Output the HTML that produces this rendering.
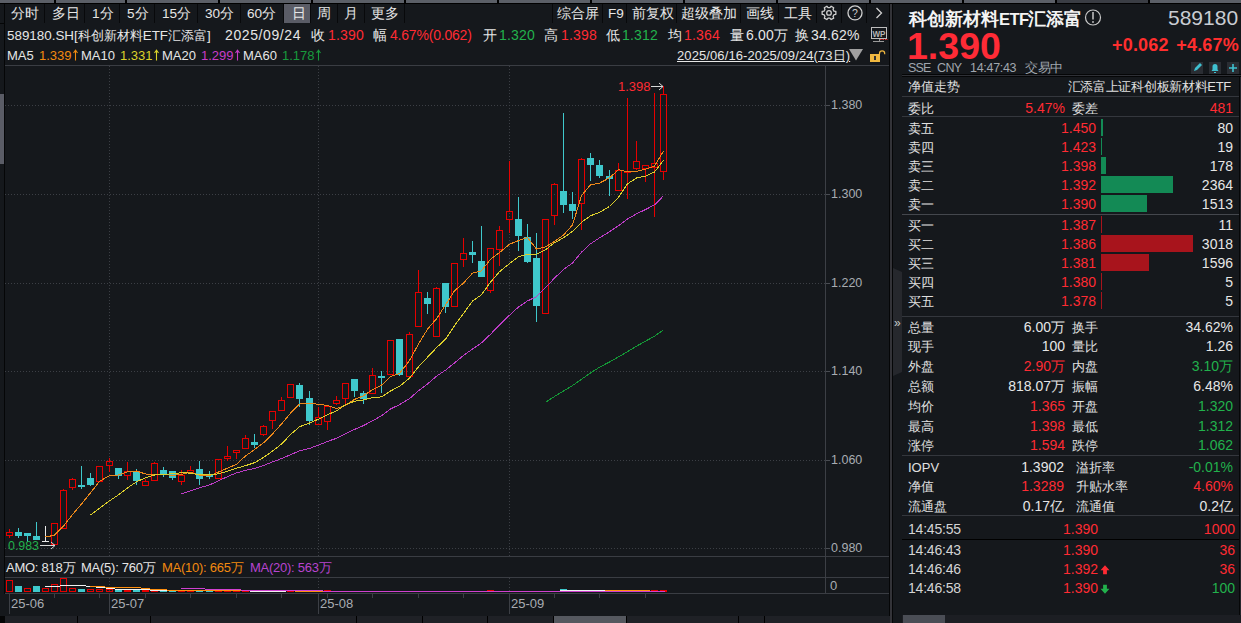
<!DOCTYPE html>
<html><head><meta charset="utf-8">
<style>
*{margin:0;padding:0;box-sizing:border-box}
html,body{width:1241px;height:623px;overflow:hidden;background:#15181c;font-family:"Liberation Sans",sans-serif;color:#e6e6e6}
.a{position:absolute;white-space:nowrap;line-height:1}
.t{font-size:13px} .t14{font-size:14px;letter-spacing:0.2px}
.w{color:#e6e6e6} .g{color:#a8acb2} .r{color:#ff2b33} .gr{color:#22b14c}
.bk{position:absolute;background:#000}
.gy{position:absolute;background:#5b5f67}
body>svg{position:absolute;left:0;top:0} .ar{display:inline-block;vertical-align:top;margin-left:1px}
</style></head><body>
<!-- top strip -->
<div class="gy" style="left:0;top:0;width:1241px;height:3px"></div>
<div class="bk" style="left:0;top:3px;width:1241px;height:1px"></div>
<div class="bk" style="left:54px;top:0;width:2px;height:3px"></div>
<div class="bk" style="left:125px;top:0;width:2px;height:3px"></div>
<div class="bk" style="left:218px;top:0;width:2px;height:3px"></div>
<div class="bk" style="left:311px;top:0;width:2px;height:3px"></div>
<div class="bk" style="left:404px;top:0;width:2px;height:3px"></div>
<div class="bk" style="left:497px;top:0;width:2px;height:3px"></div>
<div class="bk" style="left:590px;top:0;width:2px;height:3px"></div>
<div class="bk" style="left:683px;top:0;width:2px;height:3px"></div>
<div class="bk" style="left:776px;top:0;width:2px;height:3px"></div>
<div class="bk" style="left:869px;top:0;width:2px;height:3px"></div>
<div class="bk" style="left:962px;top:0;width:2px;height:3px"></div>
<div class="bk" style="left:1055px;top:0;width:2px;height:3px"></div>
<div class="bk" style="left:1148px;top:0;width:2px;height:3px"></div>
<div style="position:absolute;left:1057px;top:0;width:91px;height:3px;background:#3a3d44"></div>
<div class="bk" style="left:4px;top:4px;width:1px;height:19px;background:#08090b"></div>
<div class="bk" style="left:44px;top:4px;width:1px;height:19px;background:#08090b"></div>
<div class="bk" style="left:84px;top:4px;width:1px;height:19px;background:#08090b"></div>
<div class="bk" style="left:119px;top:4px;width:1px;height:19px;background:#08090b"></div>
<div class="bk" style="left:154px;top:4px;width:1px;height:19px;background:#08090b"></div>
<div class="bk" style="left:197px;top:4px;width:1px;height:19px;background:#08090b"></div>
<div class="bk" style="left:240px;top:4px;width:1px;height:19px;background:#08090b"></div>
<div class="bk" style="left:283px;top:4px;width:1px;height:19px;background:#08090b"></div>
<div class="bk" style="left:310px;top:4px;width:1px;height:19px;background:#08090b"></div>
<div class="bk" style="left:337px;top:4px;width:1px;height:19px;background:#08090b"></div>
<div class="bk" style="left:364px;top:4px;width:1px;height:19px;background:#08090b"></div>
<div class="bk" style="left:404px;top:4px;width:1px;height:19px;background:#08090b"></div>
<div class="bk" style="left:552px;top:4px;width:1px;height:19px;background:#08090b"></div>
<div class="bk" style="left:602px;top:4px;width:1px;height:19px;background:#08090b"></div>
<div class="bk" style="left:626px;top:4px;width:1px;height:19px;background:#08090b"></div>
<div class="bk" style="left:676px;top:4px;width:1px;height:19px;background:#08090b"></div>
<div class="bk" style="left:740px;top:4px;width:1px;height:19px;background:#08090b"></div>
<div class="bk" style="left:778px;top:4px;width:1px;height:19px;background:#08090b"></div>
<div class="bk" style="left:816px;top:4px;width:1px;height:19px;background:#08090b"></div>
<div class="bk" style="left:841px;top:4px;width:1px;height:19px;background:#08090b"></div>
<div class="bk" style="left:866px;top:4px;width:1px;height:19px;background:#08090b"></div>
<div class="bk" style="left:889px;top:4px;width:1px;height:19px;background:#08090b"></div>
<div style="position:absolute;left:284px;top:4px;width:26px;height:19px;background:#5a5c66"></div>
<div class="a t w" style="left:11px;top:7px;font-size:13.6px">分时</div>
<div class="a t w" style="left:52px;top:7px;font-size:13.6px">多日</div>
<div class="a t w" style="left:92px;top:7px;font-size:13.6px">1分</div>
<div class="a t w" style="left:127px;top:7px;font-size:13.6px">5分</div>
<div class="a t w" style="left:162px;top:7px;font-size:13.6px">15分</div>
<div class="a t w" style="left:205px;top:7px;font-size:13.6px">30分</div>
<div class="a t w" style="left:247px;top:7px;font-size:13.6px">60分</div>
<div class="a t w" style="left:292px;top:7px;font-size:13.6px">日</div>
<div class="a t w" style="left:317px;top:7px;font-size:13.6px">周</div>
<div class="a t w" style="left:344px;top:7px;font-size:13.6px">月</div>
<div class="a t w" style="left:371px;top:7px;font-size:13.6px">更多</div>
<div class="a t w" style="left:557px;top:7px;font-size:13.6px">综合屏</div>
<div class="a t w" style="left:608px;top:7px;font-size:13.6px">F9</div>
<div class="a t w" style="left:632px;top:7px;font-size:13.6px">前复权</div>
<div class="a t w" style="left:681px;top:7px;font-size:13.6px">超级叠加</div>
<div class="a t w" style="left:746px;top:7px;font-size:13.6px">画线</div>
<div class="a t w" style="left:784px;top:7px;font-size:13.6px">工具</div>
<svg width="1241" height="623" style="pointer-events:none">
<g fill="none" stroke="#d0d0d0" stroke-width="1.3">
<circle cx="829" cy="12.9" r="2.3"/>
<path d="M833.98 11.09 L835.85 11.44 L835.85 14.36 L833.98 14.71 L833.06 16.31 L833.68 18.10 L831.16 19.56 L829.92 18.12 L828.08 18.12 L826.84 19.56 L824.32 18.10 L824.94 16.31 L824.02 14.71 L822.15 14.36 L822.15 11.44 L824.02 11.09 L824.94 9.49 L824.32 7.70 L826.84 6.24 L828.08 7.68 L829.92 7.68 L831.16 6.24 L833.68 7.70 L833.06 9.49 Z" stroke-linejoin="round"/>
<circle cx="855" cy="12.9" r="7"/>
<path d="M876.5 8 l5 5 l-5 5"/>
</g>
<text x="855" y="17" fill="#d0d0d0" font-size="10.5" text-anchor="middle" font-family="Liberation Sans">?</text>
</svg>
<div style="position:absolute;left:0;top:94px;width:4px;height:70px;background:#5a5c66"></div>
<div class="bk" style="left:4px;top:4px;width:1px;height:590px;background:#050607"></div>
<div class="bk" style="left:0;top:23px;width:5px;height:1px;background:#050607"></div>
<div class="a t14 w" style="left:7px;top:28px"><span style="font-size:13.4px;letter-spacing:0">589180.SH[</span><span style="font-size:13px;letter-spacing:0">科创新材料</span><span style="font-size:13.4px;letter-spacing:0">ETF</span><span style="font-size:13px;letter-spacing:0">汇添富</span><span style="font-size:13.4px;letter-spacing:0">]</span></div>
<div class="a t14 w" style="left:225px;top:28px"><span style="letter-spacing:0.6px">2025/09/24</span></div>
<div class="a t14 w" style="left:311px;top:28px">收</div>
<div class="a t14 r" style="left:328px;top:28px">1.390</div>
<div class="a t14 w" style="left:373px;top:28px">幅</div>
<div class="a t14 r" style="left:390px;top:28px"><span style="letter-spacing:-0.2px">4.67%(0.062)</span></div>
<div class="a t14 w" style="left:483px;top:28px">开</div>
<div class="a t14 gr" style="left:499px;top:28px">1.320</div>
<div class="a t14 w" style="left:544px;top:28px">高</div>
<div class="a t14 r" style="left:561px;top:28px">1.398</div>
<div class="a t14 w" style="left:606px;top:28px">低</div>
<div class="a t14 gr" style="left:622px;top:28px">1.312</div>
<div class="a t14 w" style="left:668px;top:28px">均</div>
<div class="a t14 r" style="left:684px;top:28px">1.364</div>
<div class="a t14 w" style="left:730px;top:28px">量</div>
<div class="a t14 w" style="left:746px;top:28px">6.00万</div>
<div class="a t14 w" style="left:795px;top:28px">换</div>
<div class="a t14 w" style="left:811px;top:28px">34.62%</div>
<div class="a" style="left:7px;top:49px;font-size:13px;color:#e6e6e6">MA5</div>
<div class="a" style="left:39px;top:49px;font-size:13px;color:#f28a10">1.339<svg class="ar" width="5" height="12" viewBox="0 0 5 12"><path d="M2.5 1.5 V11.5 M0.5 4 L2.5 1.2 L4.5 4" stroke="#f28a10" stroke-width="1.1" fill="none"/></svg></div>
<div class="a" style="left:81px;top:49px;font-size:13px;color:#e6e6e6">MA10</div>
<div class="a" style="left:120px;top:49px;font-size:13px;color:#dcd22a">1.331<svg class="ar" width="5" height="12" viewBox="0 0 5 12"><path d="M2.5 1.5 V11.5 M0.5 4 L2.5 1.2 L4.5 4" stroke="#dcd22a" stroke-width="1.1" fill="none"/></svg></div>
<div class="a" style="left:162px;top:49px;font-size:13px;color:#e6e6e6">MA20</div>
<div class="a" style="left:201px;top:49px;font-size:13px;color:#c83cc8">1.299<svg class="ar" width="5" height="12" viewBox="0 0 5 12"><path d="M2.5 1.5 V11.5 M0.5 4 L2.5 1.2 L4.5 4" stroke="#c83cc8" stroke-width="1.1" fill="none"/></svg></div>
<div class="a" style="left:243px;top:49px;font-size:13px;color:#e6e6e6">MA60</div>
<div class="a" style="left:282px;top:49px;font-size:13px;color:#189a3c">1.178<svg class="ar" width="5" height="12" viewBox="0 0 5 12"><path d="M2.5 1.5 V11.5 M0.5 4 L2.5 1.2 L4.5 4" stroke="#189a3c" stroke-width="1.1" fill="none"/></svg></div>
<div class="a t w" style="left:677px;top:49px;text-decoration:underline;letter-spacing:0.1px">2025/06/16-2025/09/24(73日)</div>
<div style="position:absolute;left:5px;top:65px;width:885px;height:1px;background:#3a3d43"></div>
<div style="position:absolute;left:5px;top:556px;width:885px;height:1px;background:#3a3d43"></div>
<div style="position:absolute;left:5px;top:577px;width:885px;height:1px;background:#3a3d43"></div>
<div style="position:absolute;left:5px;top:593px;width:885px;height:1px;background:#3a3d43"></div>
<div style="position:absolute;left:825px;top:65px;width:1px;height:528px;background:#3c3f45"></div>
<div style="position:absolute;left:889px;top:4px;width:1px;height:619px;background:#050607"></div>
<div style="position:absolute;left:890px;top:4px;width:2px;height:619px;background:#333338"></div>
<div style="position:absolute;left:892px;top:4px;width:1px;height:619px;background:#050607"></div>
<div class="a g" style="left:831px;top:99px;font-size:12.5px">1.380</div>
<div class="a g" style="left:831px;top:188px;font-size:12.5px">1.300</div>
<div class="a g" style="left:831px;top:277px;font-size:12.5px">1.220</div>
<div class="a g" style="left:831px;top:365px;font-size:12.5px">1.140</div>
<div class="a g" style="left:831px;top:454px;font-size:12.5px">1.060</div>
<div class="a g" style="left:831px;top:542px;font-size:12.5px">0.980</div>
<div class="a g" style="left:830px;top:579px;font-size:13px">0</div>
<svg width="1241" height="623">
<rect x="871.5" y="27.5" width="15" height="11" fill="none" stroke="#bdbdbd"/>
<text x="872.5" y="37" fill="#b4b4b4" font-size="9.5" font-weight="bold" textLength="13" lengthAdjust="spacingAndGlyphs" font-family="Liberation Sans">WP</text><line x1="879.5" y1="39" x2="879.5" y2="41" stroke="#9a9a9a"/>
<line x1="873" y1="41.5" x2="884" y2="41.5" stroke="#9a9a9a"/>
<line x1="880" y1="39.5" x2="888" y2="39.5" stroke="#e02020" stroke-dasharray="1.5 1"/>
<path d="M849 49 L863 49 L856 60.5 Z" fill="#a0a0a0"/>
<rect x="870" y="54" width="10" height="8" fill="#f0b840"/>
<rect x="874" y="56" width="2" height="4" fill="#333"/>
<path d="M879.5 54 v-0.5 a2.6 2.6 0 0 1 5.2 0 v0.8" fill="none" stroke="#f0b840" stroke-width="1.2"/>
</svg>
<svg width="1241" height="623"><line x1="5" y1="105.5" x2="825" y2="105.5" stroke="#3c3f45" stroke-dasharray="1 2"/><line x1="826" y1="105.5" x2="830" y2="105.5" stroke="#4a4d53"/><line x1="5" y1="194.5" x2="825" y2="194.5" stroke="#3c3f45" stroke-dasharray="1 2"/><line x1="826" y1="194.5" x2="830" y2="194.5" stroke="#4a4d53"/><line x1="5" y1="283.5" x2="825" y2="283.5" stroke="#3c3f45" stroke-dasharray="1 2"/><line x1="826" y1="283.5" x2="830" y2="283.5" stroke="#4a4d53"/><line x1="5" y1="371.5" x2="825" y2="371.5" stroke="#3c3f45" stroke-dasharray="1 2"/><line x1="826" y1="371.5" x2="830" y2="371.5" stroke="#4a4d53"/><line x1="5" y1="460.5" x2="825" y2="460.5" stroke="#3c3f45" stroke-dasharray="1 2"/><line x1="826" y1="460.5" x2="830" y2="460.5" stroke="#4a4d53"/><line x1="5" y1="548.5" x2="825" y2="548.5" stroke="#3c3f45" stroke-dasharray="1 2"/><line x1="826" y1="548.5" x2="830" y2="548.5" stroke="#4a4d53"/><line x1="109.5" y1="66" x2="109.5" y2="556" stroke="#3c3f45" stroke-dasharray="1 2"/><line x1="109.5" y1="578" x2="109.5" y2="593" stroke="#3c3f45" stroke-dasharray="1 2"/><line x1="318.5" y1="66" x2="318.5" y2="556" stroke="#3c3f45" stroke-dasharray="1 2"/><line x1="318.5" y1="578" x2="318.5" y2="593" stroke="#3c3f45" stroke-dasharray="1 2"/><line x1="509.5" y1="66" x2="509.5" y2="556" stroke="#3c3f45" stroke-dasharray="1 2"/><line x1="509.5" y1="578" x2="509.5" y2="593" stroke="#3c3f45" stroke-dasharray="1 2"/><line x1="9.5" y1="529" x2="9.5" y2="532" stroke="#e60000"/><line x1="9.5" y1="536" x2="9.5" y2="538" stroke="#e60000"/><rect x="6.5" y="532.5" width="6" height="3" fill="none" stroke="#e60000"/><line x1="18.5" y1="528" x2="18.5" y2="538" stroke="#3fc8cc"/><rect x="15" y="532" width="7" height="4" fill="#3fc8cc"/><line x1="27.5" y1="533" x2="27.5" y2="542" stroke="#3fc8cc"/><rect x="24" y="533" width="7" height="3" fill="#3fc8cc"/><line x1="36.5" y1="522" x2="36.5" y2="540" stroke="#3fc8cc"/><rect x="33" y="536" width="7" height="4" fill="#3fc8cc"/><line x1="45.5" y1="526" x2="45.5" y2="541" stroke="#e8e8e8"/><line x1="42" y1="541.5" x2="49" y2="541.5" stroke="#e8e8e8"/><rect x="51.5" y="523.5" width="6" height="21" fill="none" stroke="#e60000"/><line x1="63.5" y1="489" x2="63.5" y2="490" stroke="#e60000"/><rect x="60.5" y="490.5" width="6" height="38" fill="none" stroke="#e60000"/><line x1="72.5" y1="478" x2="72.5" y2="479" stroke="#e60000"/><line x1="72.5" y1="488" x2="72.5" y2="490" stroke="#e60000"/><rect x="69.5" y="479.5" width="6" height="8" fill="none" stroke="#e60000"/><line x1="81.5" y1="466" x2="81.5" y2="489" stroke="#3fc8cc"/><rect x="78" y="485" width="7" height="2" fill="#3fc8cc"/><line x1="90.5" y1="473" x2="90.5" y2="486" stroke="#3fc8cc"/><rect x="87" y="478" width="7" height="7" fill="#3fc8cc"/><rect x="96.5" y="466.5" width="6" height="15" fill="none" stroke="#e60000"/><line x1="109.5" y1="458" x2="109.5" y2="461" stroke="#e60000"/><line x1="109.5" y1="466" x2="109.5" y2="472" stroke="#e60000"/><rect x="106.5" y="461.5" width="6" height="4" fill="none" stroke="#e60000"/><line x1="118.5" y1="468" x2="118.5" y2="479" stroke="#3fc8cc"/><rect x="115" y="468" width="7" height="8" fill="#3fc8cc"/><line x1="127.5" y1="462" x2="127.5" y2="471" stroke="#e60000"/><line x1="127.5" y1="476" x2="127.5" y2="480" stroke="#e60000"/><rect x="124.5" y="471.5" width="6" height="4" fill="none" stroke="#e60000"/><line x1="136.5" y1="469" x2="136.5" y2="485" stroke="#3fc8cc"/><rect x="133" y="471" width="7" height="10" fill="#3fc8cc"/><line x1="145.5" y1="479" x2="145.5" y2="481" stroke="#e60000"/><rect x="142.5" y="481.5" width="6" height="4" fill="none" stroke="#e60000"/><line x1="154.5" y1="462" x2="154.5" y2="463" stroke="#e60000"/><rect x="151.5" y="463.5" width="6" height="17" fill="none" stroke="#e60000"/><line x1="163.5" y1="467" x2="163.5" y2="477" stroke="#3fc8cc"/><rect x="160" y="470" width="7" height="5" fill="#3fc8cc"/><line x1="172.5" y1="471" x2="172.5" y2="480" stroke="#3fc8cc"/><rect x="169" y="471" width="7" height="7" fill="#3fc8cc"/><line x1="181.5" y1="470" x2="181.5" y2="475" stroke="#e60000"/><line x1="181.5" y1="482" x2="181.5" y2="485" stroke="#e60000"/><rect x="178.5" y="475.5" width="6" height="6" fill="none" stroke="#e60000"/><line x1="190.5" y1="466" x2="190.5" y2="470" stroke="#e60000"/><rect x="187.5" y="470.5" width="6" height="2" fill="none" stroke="#e60000"/><line x1="199.5" y1="461" x2="199.5" y2="485" stroke="#3fc8cc"/><rect x="196" y="469" width="7" height="10" fill="#3fc8cc"/><line x1="209.5" y1="471" x2="209.5" y2="479" stroke="#3fc8cc"/><rect x="206" y="475" width="7" height="2" fill="#3fc8cc"/><rect x="215.5" y="459.5" width="6" height="19" fill="none" stroke="#e60000"/><line x1="227.5" y1="446" x2="227.5" y2="456" stroke="#e60000"/><line x1="227.5" y1="459" x2="227.5" y2="461" stroke="#e60000"/><rect x="224.5" y="456.5" width="6" height="2" fill="none" stroke="#e60000"/><line x1="236.5" y1="453" x2="236.5" y2="459" stroke="#e60000"/><rect x="233.5" y="450.5" width="6" height="2" fill="none" stroke="#e60000"/><line x1="245.5" y1="435" x2="245.5" y2="438" stroke="#e60000"/><rect x="242.5" y="438.5" width="6" height="10" fill="none" stroke="#e60000"/><line x1="254.5" y1="434" x2="254.5" y2="448" stroke="#3fc8cc"/><rect x="251" y="442" width="7" height="3" fill="#3fc8cc"/><line x1="263.5" y1="425" x2="263.5" y2="426" stroke="#e60000"/><line x1="263.5" y1="435" x2="263.5" y2="436" stroke="#e60000"/><rect x="260.5" y="426.5" width="6" height="8" fill="none" stroke="#e60000"/><line x1="272.5" y1="421" x2="272.5" y2="429" stroke="#e60000"/><rect x="269.5" y="411.5" width="6" height="9" fill="none" stroke="#e60000"/><line x1="281.5" y1="397" x2="281.5" y2="400" stroke="#e60000"/><rect x="278.5" y="400.5" width="6" height="10" fill="none" stroke="#e60000"/><rect x="287.5" y="384.5" width="6" height="13" fill="none" stroke="#e60000"/><line x1="299.5" y1="383" x2="299.5" y2="407" stroke="#3fc8cc"/><rect x="296" y="385" width="7" height="14" fill="#3fc8cc"/><line x1="309.5" y1="391" x2="309.5" y2="425" stroke="#3fc8cc"/><rect x="306" y="398" width="7" height="23" fill="#3fc8cc"/><line x1="318.5" y1="407" x2="318.5" y2="417" stroke="#e60000"/><rect x="315.5" y="417.5" width="6" height="7" fill="none" stroke="#e60000"/><line x1="327.5" y1="422" x2="327.5" y2="430" stroke="#e60000"/><rect x="324.5" y="406.5" width="6" height="15" fill="none" stroke="#e60000"/><line x1="336.5" y1="396" x2="336.5" y2="400" stroke="#e60000"/><line x1="336.5" y1="404" x2="336.5" y2="405" stroke="#e60000"/><rect x="333.5" y="400.5" width="6" height="3" fill="none" stroke="#e60000"/><line x1="345.5" y1="399" x2="345.5" y2="404" stroke="#e60000"/><rect x="342.5" y="383.5" width="6" height="15" fill="none" stroke="#e60000"/><line x1="354.5" y1="379" x2="354.5" y2="397" stroke="#3fc8cc"/><rect x="351" y="379" width="7" height="12" fill="#3fc8cc"/><line x1="363.5" y1="391" x2="363.5" y2="404" stroke="#3fc8cc"/><rect x="360" y="393" width="7" height="6" fill="#3fc8cc"/><line x1="372.5" y1="368" x2="372.5" y2="375" stroke="#e60000"/><rect x="369.5" y="375.5" width="6" height="18" fill="none" stroke="#e60000"/><line x1="381.5" y1="371" x2="381.5" y2="393" stroke="#3fc8cc"/><rect x="378" y="376" width="7" height="2" fill="#3fc8cc"/><rect x="387.5" y="340.5" width="6" height="34" fill="none" stroke="#e60000"/><line x1="399.5" y1="339" x2="399.5" y2="376" stroke="#3fc8cc"/><rect x="396" y="339" width="7" height="36" fill="#3fc8cc"/><line x1="409.5" y1="332" x2="409.5" y2="334" stroke="#e60000"/><rect x="406.5" y="334.5" width="6" height="42" fill="none" stroke="#e60000"/><line x1="418.5" y1="270" x2="418.5" y2="292" stroke="#e60000"/><rect x="415.5" y="292.5" width="6" height="34" fill="none" stroke="#e60000"/><line x1="427.5" y1="292" x2="427.5" y2="314" stroke="#3fc8cc"/><rect x="424" y="298" width="7" height="6" fill="#3fc8cc"/><line x1="436.5" y1="287" x2="436.5" y2="288" stroke="#e60000"/><rect x="433.5" y="288.5" width="6" height="48" fill="none" stroke="#e60000"/><line x1="445.5" y1="283" x2="445.5" y2="313" stroke="#3fc8cc"/><rect x="442" y="283" width="7" height="24" fill="#3fc8cc"/><rect x="451.5" y="263.5" width="6" height="43" fill="none" stroke="#e60000"/><line x1="463.5" y1="238" x2="463.5" y2="253" stroke="#e60000"/><line x1="463.5" y1="260" x2="463.5" y2="267" stroke="#e60000"/><rect x="460.5" y="253.5" width="6" height="6" fill="none" stroke="#e60000"/><line x1="472.5" y1="241" x2="472.5" y2="263" stroke="#3fc8cc"/><rect x="469" y="252" width="7" height="3" fill="#3fc8cc"/><line x1="481.5" y1="226" x2="481.5" y2="277" stroke="#3fc8cc"/><rect x="478" y="261" width="7" height="16" fill="#3fc8cc"/><line x1="490.5" y1="291" x2="490.5" y2="293" stroke="#e60000"/><rect x="487.5" y="248.5" width="6" height="42" fill="none" stroke="#e60000"/><line x1="499.5" y1="226" x2="499.5" y2="230" stroke="#e60000"/><line x1="499.5" y1="250" x2="499.5" y2="266" stroke="#e60000"/><rect x="496.5" y="230.5" width="6" height="19" fill="none" stroke="#e60000"/><line x1="509.5" y1="161" x2="509.5" y2="211" stroke="#e60000"/><line x1="509.5" y1="220" x2="509.5" y2="233" stroke="#e60000"/><rect x="506.5" y="211.5" width="6" height="8" fill="none" stroke="#e60000"/><line x1="518.5" y1="197" x2="518.5" y2="251" stroke="#3fc8cc"/><rect x="515" y="219" width="7" height="17" fill="#3fc8cc"/><line x1="527.5" y1="224" x2="527.5" y2="263" stroke="#3fc8cc"/><rect x="524" y="237" width="7" height="25" fill="#3fc8cc"/><line x1="536.5" y1="233" x2="536.5" y2="322" stroke="#3fc8cc"/><rect x="533" y="258" width="7" height="48" fill="#3fc8cc"/><rect x="542.5" y="219.5" width="6" height="94" fill="none" stroke="#e60000"/><line x1="554.5" y1="183" x2="554.5" y2="184" stroke="#e60000"/><line x1="554.5" y1="216" x2="554.5" y2="225" stroke="#e60000"/><rect x="551.5" y="184.5" width="6" height="31" fill="none" stroke="#e60000"/><line x1="563.5" y1="113" x2="563.5" y2="213" stroke="#3fc8cc"/><rect x="560" y="191" width="7" height="14" fill="#3fc8cc"/><line x1="572.5" y1="192" x2="572.5" y2="219" stroke="#3fc8cc"/><rect x="569" y="204" width="7" height="7" fill="#3fc8cc"/><line x1="581.5" y1="158" x2="581.5" y2="159" stroke="#e60000"/><line x1="581.5" y1="204" x2="581.5" y2="230" stroke="#e60000"/><rect x="578.5" y="159.5" width="6" height="44" fill="none" stroke="#e60000"/><line x1="590.5" y1="153" x2="590.5" y2="181" stroke="#3fc8cc"/><rect x="587" y="158" width="7" height="7" fill="#3fc8cc"/><line x1="599.5" y1="160" x2="599.5" y2="178" stroke="#3fc8cc"/><rect x="596" y="165" width="7" height="11" fill="#3fc8cc"/><line x1="609.5" y1="170" x2="609.5" y2="196" stroke="#3fc8cc"/><rect x="606" y="176" width="7" height="3" fill="#3fc8cc"/><line x1="618.5" y1="163" x2="618.5" y2="170" stroke="#e60000"/><rect x="615.5" y="170.5" width="6" height="20" fill="none" stroke="#e60000"/><line x1="627.5" y1="98" x2="627.5" y2="171" stroke="#e60000"/><line x1="627.5" y1="172" x2="627.5" y2="199" stroke="#e60000"/><rect x="624.5" y="171.5" width="6" height="1" fill="none" stroke="#e60000"/><line x1="636.5" y1="141" x2="636.5" y2="161" stroke="#e60000"/><line x1="636.5" y1="169" x2="636.5" y2="170" stroke="#e60000"/><rect x="633.5" y="161.5" width="6" height="7" fill="none" stroke="#e60000"/><line x1="645.5" y1="169" x2="645.5" y2="182" stroke="#e60000"/><rect x="642.5" y="165.5" width="6" height="3" fill="none" stroke="#e60000"/><line x1="654.5" y1="93" x2="654.5" y2="163" stroke="#e60000"/><line x1="654.5" y1="168" x2="654.5" y2="217" stroke="#e60000"/><rect x="651.5" y="163.5" width="6" height="4" fill="none" stroke="#e60000"/><line x1="663.5" y1="86" x2="663.5" y2="94" stroke="#e60000"/><line x1="663.5" y1="172" x2="663.5" y2="180" stroke="#e60000"/><rect x="660.5" y="94.5" width="6" height="77" fill="none" stroke="#e60000"/><polyline points="45.5,537.0 54.5,535.2 63.5,526.0 72.5,514.6 81.5,504.0 90.5,492.8 99.5,481.4 109.5,475.6 118.5,475.0 127.5,471.8 136.5,471.0 145.5,474.0 154.5,474.4 163.5,474.1 172.5,475.5 181.5,474.3 190.5,472.1 199.5,475.3 209.5,475.7 218.5,472.0 227.5,468.2 236.5,464.2 245.5,456.0 254.5,449.6 263.5,442.9 272.5,433.9 281.5,424.0 290.5,413.2 299.5,404.1 309.5,403.1 318.5,404.3 327.5,405.4 336.5,408.6 345.5,405.4 354.5,399.4 363.5,395.8 372.5,389.6 381.5,385.2 390.5,376.6 399.5,373.5 409.5,360.6 418.5,344.0 427.5,329.2 436.5,318.8 445.5,305.0 454.5,290.8 463.5,283.0 472.5,273.1 481.5,270.8 490.5,259.2 499.5,252.6 509.5,244.2 518.5,240.6 527.5,237.6 536.5,249.1 545.5,246.8 554.5,241.4 563.5,235.1 572.5,225.0 581.5,195.6 590.5,184.8 599.5,183.1 609.5,177.9 618.5,169.7 627.5,172.0 636.5,171.3 645.5,169.1 654.5,166.1 663.5,150.9" fill="none" stroke="#ec881a" stroke-width="1" shape-rendering="crispEdges"/><polyline points="90.5,514.9 99.5,508.3 109.5,500.8 118.5,494.8 127.5,487.9 136.5,481.9 145.5,477.7 154.5,475.0 163.5,474.6 172.5,473.7 181.5,472.7 190.5,473.1 199.5,474.9 209.5,474.9 218.5,473.8 227.5,471.3 236.5,468.2 245.5,465.7 254.5,462.7 263.5,457.5 272.5,451.1 281.5,444.1 290.5,434.6 299.5,426.8 309.5,423.0 318.5,419.1 327.5,414.7 336.5,410.9 345.5,404.7 354.5,401.2 363.5,400.0 372.5,397.5 381.5,396.9 390.5,391.0 399.5,386.4 409.5,378.2 418.5,366.8 427.5,357.2 436.5,347.7 445.5,339.2 454.5,325.7 463.5,313.5 472.5,301.1 481.5,294.8 490.5,282.1 499.5,271.7 509.5,263.6 518.5,256.8 527.5,254.2 536.5,254.1 545.5,249.7 554.5,242.8 563.5,237.8 572.5,231.3 581.5,222.3 590.5,215.8 599.5,212.3 609.5,206.5 618.5,197.3 627.5,183.8 636.5,178.0 645.5,176.1 654.5,172.0 663.5,160.3" fill="none" stroke="#dcce2c" stroke-width="1" shape-rendering="crispEdges"/><polyline points="181.5,493.8 190.5,490.7 199.5,487.8 209.5,484.9 218.5,480.8 227.5,476.6 236.5,472.9 245.5,470.3 254.5,468.6 263.5,465.6 272.5,461.9 281.5,458.6 290.5,454.7 299.5,450.9 309.5,448.4 318.5,445.2 327.5,441.4 336.5,438.3 345.5,433.7 354.5,429.4 363.5,425.6 372.5,420.8 381.5,415.8 390.5,408.9 399.5,404.7 409.5,398.6 418.5,390.7 427.5,384.0 436.5,376.2 445.5,370.2 454.5,362.9 463.5,355.5 472.5,349.0 481.5,342.9 490.5,334.3 499.5,324.9 509.5,315.2 518.5,307.0 527.5,300.9 536.5,296.7 545.5,287.7 554.5,278.1 563.5,269.5 572.5,263.0 581.5,252.2 590.5,243.8 599.5,237.9 609.5,231.7 618.5,225.8 627.5,219.0 636.5,213.9 645.5,209.5 654.5,204.9 663.5,195.8" fill="none" stroke="#bc3cc6" stroke-width="1" shape-rendering="crispEdges"/><polyline points="545.5,402.3 554.5,396.5 563.5,391.0 572.5,385.6 581.5,379.3 590.5,373.0 599.5,367.2 609.5,362.0 618.5,356.9 627.5,351.6 636.5,346.2 645.5,341.2 654.5,336.2 663.5,329.9" fill="none" stroke="#149636" stroke-width="1" shape-rendering="crispEdges"/></svg>
<div class="a r" style="left:618px;top:80px;font-size:13px">1.398</div>
<svg width="1241" height="623"><path d="M651 86.5 H663 M659 83 L663 86.5 L659 90" stroke="#d8d8d8" fill="none"/></svg>
<div class="a gr" style="left:8px;top:540px;font-size:12.4px">0.983</div>
<svg width="1241" height="623"><path d="M40 545.5 H55 M51 542 L55 545.5 L51 549" stroke="#d8d8d8" fill="none"/></svg>
<div class="a t" style="left:6px;top:561px;letter-spacing:-0.25px;color:#e6e6e6">AMO: 818万</div>
<div class="a t" style="left:81px;top:561px;letter-spacing:-0.25px;color:#e6e6e6">MA(5): 760万</div>
<div class="a t" style="left:162px;top:561px;letter-spacing:-0.25px;color:#f28a10">MA(10): 665万</div>
<div class="a t" style="left:250px;top:561px;letter-spacing:-0.25px;color:#b844d0">MA(20): 563万</div>
<svg width="1241" height="623"><rect x="6.5" y="580.5" width="6" height="11" fill="none" stroke="#e60000"/><rect x="15" y="586" width="7" height="6" fill="#3fc8cc"/><rect x="24.5" y="588.5" width="6" height="3" fill="none" stroke="#e60000"/><rect x="33" y="586" width="7" height="6" fill="#3fc8cc"/><rect x="42.5" y="588.5" width="6" height="3" fill="none" stroke="#e60000"/><rect x="51.5" y="584.5" width="6" height="7" fill="none" stroke="#e60000"/><rect x="60.5" y="578.5" width="6" height="13" fill="none" stroke="#e60000"/><rect x="69.5" y="588.5" width="6" height="3" fill="none" stroke="#e60000"/><rect x="78" y="589" width="7" height="3" fill="#3fc8cc"/><rect x="87.5" y="589.5" width="6" height="2" fill="none" stroke="#e60000"/><rect x="96.5" y="589.5" width="6" height="2" fill="none" stroke="#e60000"/><rect x="106.5" y="589.5" width="6" height="2" fill="none" stroke="#e60000"/><rect x="115" y="590" width="7" height="2" fill="#3fc8cc"/><rect x="124" y="590" width="7" height="2" fill="#e60000"/><rect x="133" y="590" width="7" height="2" fill="#3fc8cc"/><rect x="142" y="590" width="7" height="2" fill="#e60000"/><rect x="151" y="590" width="7" height="2" fill="#e60000"/><rect x="160" y="590" width="7" height="2" fill="#3fc8cc"/><rect x="169" y="590" width="7" height="2" fill="#3fc8cc"/><rect x="178" y="590" width="7" height="2" fill="#e60000"/><rect x="187" y="590" width="7" height="2" fill="#e60000"/><rect x="196" y="590" width="7" height="2" fill="#3fc8cc"/><rect x="206" y="590" width="7" height="2" fill="#3fc8cc"/><rect x="215" y="590" width="7" height="2" fill="#e60000"/><rect x="224" y="590" width="7" height="2" fill="#e60000"/><rect x="233" y="590" width="7" height="2" fill="#e60000"/><rect x="242" y="590" width="7" height="2" fill="#e60000"/><rect x="251" y="590" width="7" height="2" fill="#3fc8cc"/><rect x="260" y="590" width="7" height="2" fill="#e60000"/><rect x="269" y="590" width="7" height="2" fill="#e60000"/><rect x="278" y="590" width="7" height="2" fill="#e60000"/><rect x="287" y="590" width="7" height="2" fill="#e60000"/><rect x="296" y="590" width="7" height="2" fill="#3fc8cc"/><rect x="306" y="590" width="7" height="2" fill="#3fc8cc"/><rect x="315" y="591" width="7" height="1" fill="#e60000"/><rect x="324" y="590" width="7" height="2" fill="#e60000"/><rect x="333" y="591" width="7" height="1" fill="#e60000"/><rect x="342" y="591" width="7" height="1" fill="#e60000"/><rect x="351" y="591" width="7" height="1" fill="#3fc8cc"/><rect x="360" y="591" width="7" height="1" fill="#3fc8cc"/><rect x="369" y="591" width="7" height="1" fill="#e60000"/><rect x="378" y="591" width="7" height="1" fill="#3fc8cc"/><rect x="387" y="591" width="7" height="1" fill="#e60000"/><rect x="396" y="591" width="7" height="1" fill="#3fc8cc"/><rect x="406" y="591" width="7" height="1" fill="#e60000"/><rect x="415" y="591" width="7" height="1" fill="#e60000"/><rect x="424" y="591" width="7" height="1" fill="#3fc8cc"/><rect x="433" y="591" width="7" height="1" fill="#e60000"/><rect x="442" y="591" width="7" height="1" fill="#3fc8cc"/><rect x="451" y="591" width="7" height="1" fill="#e60000"/><rect x="460" y="591" width="7" height="1" fill="#e60000"/><rect x="469" y="591" width="7" height="1" fill="#3fc8cc"/><rect x="478" y="591" width="7" height="1" fill="#3fc8cc"/><rect x="487" y="590" width="7" height="2" fill="#e60000"/><rect x="496" y="591" width="7" height="1" fill="#e60000"/><rect x="506" y="591" width="7" height="1" fill="#e60000"/><rect x="515" y="591" width="7" height="1" fill="#3fc8cc"/><rect x="524" y="591" width="7" height="1" fill="#3fc8cc"/><rect x="533" y="591" width="7" height="1" fill="#3fc8cc"/><rect x="542" y="591" width="7" height="1" fill="#e60000"/><rect x="551" y="591" width="7" height="1" fill="#e60000"/><rect x="560" y="589" width="7" height="3" fill="#3fc8cc"/><rect x="569" y="591" width="7" height="1" fill="#3fc8cc"/><rect x="578" y="591" width="7" height="1" fill="#e60000"/><rect x="587" y="591" width="7" height="1" fill="#3fc8cc"/><rect x="596" y="591" width="7" height="1" fill="#3fc8cc"/><rect x="606" y="591" width="7" height="1" fill="#3fc8cc"/><rect x="615" y="591" width="7" height="1" fill="#e60000"/><rect x="624" y="591" width="7" height="1" fill="#e60000"/><rect x="633" y="591" width="7" height="1" fill="#e60000"/><rect x="642" y="591" width="7" height="1" fill="#e60000"/><rect x="651" y="590" width="7" height="2" fill="#e60000"/><rect x="660" y="590" width="7" height="2" fill="#e60000"/><rect x="45" y="586" width="15" height="1" fill="#f0f0f0"/><rect x="60" y="585" width="26" height="1" fill="#f0f0f0"/><rect x="86" y="586" width="10" height="1" fill="#f0f0f0"/><rect x="96" y="587" width="10" height="1" fill="#f0f0f0"/><rect x="106" y="588" width="9" height="1" fill="#f0f0f0"/><rect x="115" y="589" width="35" height="1" fill="#f0f0f0"/><rect x="150" y="590" width="20" height="1" fill="#f0f0f0"/><rect x="250" y="591" width="36" height="1" fill="#f0f0f0"/><rect x="90" y="586" width="15" height="1" fill="#ff9010"/><rect x="105" y="587" width="36" height="1" fill="#ff9010"/><rect x="141" y="588" width="9" height="1" fill="#ff9010"/><rect x="150" y="589" width="17" height="1" fill="#ff9010"/><rect x="167" y="590" width="74" height="1" fill="#ff9010"/><rect x="295" y="591" width="28" height="1" fill="#ff9010"/><rect x="181" y="588" width="24" height="1" fill="#d040d0"/><rect x="205" y="589" width="36" height="1" fill="#d040d0"/><rect x="241" y="590" width="82" height="1" fill="#d040d0"/><rect x="323" y="591" width="342" height="1" fill="#d040d0"/><rect x="560" y="590" width="45" height="1" fill="#f0f0f0"/><rect x="605" y="590" width="45" height="1" fill="#ff9010"/></svg>
<svg width="1241" height="623"><line x1="54.5" y1="594" x2="54.5" y2="598" stroke="#3c3f45"/><line x1="99.5" y1="594" x2="99.5" y2="598" stroke="#3c3f45"/><line x1="145.5" y1="594" x2="145.5" y2="598" stroke="#3c3f45"/><line x1="190.5" y1="594" x2="190.5" y2="598" stroke="#3c3f45"/><line x1="236.5" y1="594" x2="236.5" y2="598" stroke="#3c3f45"/><line x1="281.5" y1="594" x2="281.5" y2="598" stroke="#3c3f45"/><line x1="327.5" y1="594" x2="327.5" y2="598" stroke="#3c3f45"/><line x1="372.5" y1="594" x2="372.5" y2="598" stroke="#3c3f45"/><line x1="418.5" y1="594" x2="418.5" y2="598" stroke="#3c3f45"/><line x1="463.5" y1="594" x2="463.5" y2="598" stroke="#3c3f45"/><line x1="509.5" y1="594" x2="509.5" y2="598" stroke="#3c3f45"/><line x1="554.5" y1="594" x2="554.5" y2="598" stroke="#3c3f45"/><line x1="599.5" y1="594" x2="599.5" y2="598" stroke="#3c3f45"/><line x1="645.5" y1="594" x2="645.5" y2="598" stroke="#3c3f45"/><line x1="9.5" y1="594" x2="9.5" y2="614" stroke="#3c3f45"/><line x1="109.5" y1="594" x2="109.5" y2="614" stroke="#3c3f45"/><line x1="318.5" y1="594" x2="318.5" y2="614" stroke="#3c3f45"/><line x1="509.5" y1="594" x2="509.5" y2="614" stroke="#3c3f45"/></svg>
<div class="a g" style="left:11px;top:597px;font-size:13px">25-06</div>
<div class="a g" style="left:111px;top:597px;font-size:13px">25-07</div>
<div class="a g" style="left:320px;top:597px;font-size:13px">25-08</div>
<div class="a g" style="left:511px;top:597px;font-size:13px">25-09</div>
<div style="position:absolute;left:0;top:616px;width:5px;height:7px;background:#050607"></div><div style="position:absolute;left:5px;top:616px;width:885px;height:7px;background:#1f2126"></div>
<div class="bk" style="left:77px;top:616px;width:1px;height:7px"></div>
<div class="bk" style="left:150px;top:616px;width:1px;height:7px"></div>
<div class="bk" style="left:356px;top:616px;width:1px;height:7px"></div>
<div class="bk" style="left:422px;top:616px;width:1px;height:7px"></div>
<div class="bk" style="left:487px;top:616px;width:1px;height:7px"></div>
<div class="bk" style="left:553px;top:616px;width:1px;height:7px"></div>
<div class="bk" style="left:626px;top:616px;width:1px;height:7px"></div>
<div class="bk" style="left:738px;top:616px;width:1px;height:7px"></div>
<div class="bk" style="left:764px;top:616px;width:1px;height:7px"></div>
<div style="position:absolute;left:554px;top:616px;width:72px;height:7px;background:#55585f"></div>
<div class="a" style="left:909px;top:11px;font-size:17.5px;font-weight:bold;color:#f4f4f4">科创新材料<span style="font-size:16.5px;letter-spacing:-0.6px">ETF</span>汇添富</div>
<svg width="1241" height="623"><circle cx="1093" cy="17.5" r="7.5" fill="none" stroke="#c8c8c8" stroke-width="1.2"/><line x1="1093" y1="12" x2="1093" y2="19.5" stroke="#c8c8c8" stroke-width="1.5"/><circle cx="1093" cy="22" r="0.9" fill="#c8c8c8"/></svg>
<div class="a" style="left:1168px;top:7px;font-size:21px;color:#c8ccd2">589180</div>
<div class="a" style="left:907px;top:28px;font-size:37.5px;font-weight:bold;color:#ff2b36">1.390</div>
<div class="a" style="left:1112px;top:36px;font-size:18px;font-weight:bold;letter-spacing:0.2px;color:#ff2e2e">+0.062</div>
<div class="a" style="right:2px;top:36px;font-size:18px;font-weight:bold;letter-spacing:0.2px;color:#ff2e2e">+4.67%</div>
<div class="a" style="left:908px;top:62px;font-size:12.5px;letter-spacing:-0.8px;color:#a0a6ae">SSE</div>
<div class="a" style="left:937px;top:62px;font-size:12.5px;letter-spacing:-0.6px;color:#a0a6ae">CNY</div>
<div class="a" style="left:970px;top:62px;font-size:12.5px;letter-spacing:-0.3px;color:#a0a6ae">14:47:43</div>
<div class="a" style="left:1025px;top:62px;font-size:12.5px;letter-spacing:-0.3px;color:#a0a6ae">交易中</div>
<div style="position:absolute;left:1191px;top:62px;width:12px;height:12px;background:#2a2d33"></div>
<div style="position:absolute;left:1209px;top:62px;width:12px;height:12px;background:#2a2d33"></div>
<div style="position:absolute;left:1227px;top:62px;width:12px;height:12px;background:#2a2d33"></div>
<svg width="1241" height="623">
<path d="M1194 71 l1 -3 l5 -5 l2 2 l-5 5 z" fill="#3fc0d0"/>
<path d="M1211.5 71 h7 l-1 -1.5 v-3 a2.5 2.5 0 0 0 -5 0 v3 z M1214 72 h2 v1 h-2z" fill="#3fc0d0"/>
<path d="M1233 64 v8 M1229 68 h8" stroke="#3fc0d0" stroke-width="1.6"/>
</svg>
<div style="position:absolute;left:902px;top:74px;width:339px;height:1px;background:#050607"></div>
<div style="position:absolute;left:902px;top:75px;width:339px;height:1px;background:#2e3036"></div>
<div style="position:absolute;left:902px;top:76px;width:339px;height:1px;background:#050607"></div>
<div style="position:absolute;left:902px;top:96px;width:339px;height:1px;background:#34373d"></div>
<div style="position:absolute;left:902px;top:116px;width:339px;height:1px;background:#34373d"></div>
<div style="position:absolute;left:902px;top:214px;width:339px;height:1px;background:#44474d"></div>
<div style="position:absolute;left:902px;top:316px;width:339px;height:1px;background:#34373d"></div>
<div style="position:absolute;left:902px;top:455px;width:339px;height:1px;background:#34373d"></div>
<div style="position:absolute;left:902px;top:515px;width:339px;height:1px;background:#34373d"></div>
<div style="position:absolute;left:902px;top:539px;width:339px;height:1px;background:#000000"></div>
<svg width="1241" height="623"><path d="M893 268 L902 272 L902 372 L893 376 Z" fill="#26282d"/></svg>
<div class="a" style="left:894px;top:317px;font-size:12px;color:#c8c8c8">»</div>
<div class="a t" style="left:908px;top:80px;color:#e0e0e0">净值走势</div>
<div class="a t" style="left:1231px;top:80px;color:#e0e0e0;letter-spacing:-0.3px;transform:translateX(-100%)">汇添富上证科创板新材料ETF</div>
<div class="a t" style="left:908px;top:101.5px;color:#e0e0e0">委比</div>
<div class="a" style="right:176px;top:100.5px;font-size:14px;color:#ff2b33">5.47%</div>
<div class="a t" style="left:1072px;top:101.5px;color:#e0e0e0">委差</div>
<div class="a" style="right:8px;top:100.5px;font-size:14px;color:#ff2b33">481</div>
<div class="a t" style="left:908px;top:121.5px;color:#e0e0e0">卖五</div>
<div class="a" style="right:145px;top:120.5px;font-size:14px;color:#ff2b33">1.450</div>
<div class="a" style="right:8px;top:120.5px;font-size:14px;color:#e6e6e6">80</div>
<div style="position:absolute;left:1101px;top:119px;width:2px;height:17px;background:#138a55"></div>
<div class="a t" style="left:908px;top:140.5px;color:#e0e0e0">卖四</div>
<div class="a" style="right:145px;top:139.5px;font-size:14px;color:#ff2b33">1.423</div>
<div class="a" style="right:8px;top:139.5px;font-size:14px;color:#e6e6e6">19</div>
<div style="position:absolute;left:1101px;top:138px;width:1px;height:17px;background:#138a55"></div>
<div class="a t" style="left:908px;top:159.5px;color:#e0e0e0">卖三</div>
<div class="a" style="right:145px;top:158.5px;font-size:14px;color:#ff2b33">1.398</div>
<div class="a" style="right:8px;top:158.5px;font-size:14px;color:#e6e6e6">178</div>
<div style="position:absolute;left:1101px;top:157px;width:5px;height:17px;background:#138a55"></div>
<div class="a t" style="left:908px;top:178.5px;color:#e0e0e0">卖二</div>
<div class="a" style="right:145px;top:177.5px;font-size:14px;color:#ff2b33">1.392</div>
<div class="a" style="right:8px;top:177.5px;font-size:14px;color:#e6e6e6">2364</div>
<div style="position:absolute;left:1101px;top:176px;width:72px;height:17px;background:#138a55"></div>
<div class="a t" style="left:908px;top:197.5px;color:#e0e0e0">卖一</div>
<div class="a" style="right:145px;top:196.5px;font-size:14px;color:#ff2b33">1.390</div>
<div class="a" style="right:8px;top:196.5px;font-size:14px;color:#e6e6e6">1513</div>
<div style="position:absolute;left:1101px;top:195px;width:46px;height:17px;background:#138a55"></div>
<div class="a t" style="left:908px;top:218.5px;color:#e0e0e0">买一</div>
<div class="a" style="right:145px;top:217.5px;font-size:14px;color:#ff2b33">1.387</div>
<div class="a" style="right:8px;top:217.5px;font-size:14px;color:#e6e6e6">11</div>
<div style="position:absolute;left:1101px;top:216px;width:1px;height:17px;background:#a8141c"></div>
<div class="a t" style="left:908px;top:237.5px;color:#e0e0e0">买二</div>
<div class="a" style="right:145px;top:236.5px;font-size:14px;color:#ff2b33">1.386</div>
<div class="a" style="right:8px;top:236.5px;font-size:14px;color:#e6e6e6">3018</div>
<div style="position:absolute;left:1101px;top:235px;width:92px;height:17px;background:#a8141c"></div>
<div class="a t" style="left:908px;top:256.5px;color:#e0e0e0">买三</div>
<div class="a" style="right:145px;top:255.5px;font-size:14px;color:#ff2b33">1.381</div>
<div class="a" style="right:8px;top:255.5px;font-size:14px;color:#e6e6e6">1596</div>
<div style="position:absolute;left:1101px;top:254px;width:48px;height:17px;background:#a8141c"></div>
<div class="a t" style="left:908px;top:275.5px;color:#e0e0e0">买四</div>
<div class="a" style="right:145px;top:274.5px;font-size:14px;color:#ff2b33">1.380</div>
<div class="a" style="right:8px;top:274.5px;font-size:14px;color:#e6e6e6">5</div>
<div style="position:absolute;left:1101px;top:273px;width:1px;height:17px;background:#a8141c"></div>
<div class="a t" style="left:908px;top:294.5px;color:#e0e0e0">买五</div>
<div class="a" style="right:145px;top:293.5px;font-size:14px;color:#ff2b33">1.378</div>
<div class="a" style="right:8px;top:293.5px;font-size:14px;color:#e6e6e6">5</div>
<div style="position:absolute;left:1101px;top:292px;width:1px;height:17px;background:#a8141c"></div>
<div class="a t" style="left:908px;top:320.5px;color:#e0e0e0">总量</div>
<div class="a" style="right:176px;top:319.5px;font-size:14px;color:#e6e6e6">6.00万</div>
<div class="a t" style="left:1072px;top:320.5px;color:#e0e0e0">换手</div>
<div class="a" style="right:8px;top:319.5px;font-size:14px;color:#e6e6e6">34.62%</div>
<div class="a t" style="left:908px;top:340.3px;color:#e0e0e0">现手</div>
<div class="a" style="right:176px;top:339.3px;font-size:14px;color:#e6e6e6">100</div>
<div class="a t" style="left:1072px;top:340.3px;color:#e0e0e0">量比</div>
<div class="a" style="right:8px;top:339.3px;font-size:14px;color:#e6e6e6">1.26</div>
<div class="a t" style="left:908px;top:360.1px;color:#e0e0e0">外盘</div>
<div class="a" style="right:176px;top:359.1px;font-size:14px;color:#ff2b33">2.90万</div>
<div class="a t" style="left:1072px;top:360.1px;color:#e0e0e0">内盘</div>
<div class="a" style="right:8px;top:359.1px;font-size:14px;color:#22b14c">3.10万</div>
<div class="a t" style="left:908px;top:379.9px;color:#e0e0e0">总额</div>
<div class="a" style="right:176px;top:378.9px;font-size:14px;color:#e6e6e6">818.07万</div>
<div class="a t" style="left:1072px;top:379.9px;color:#e0e0e0">振幅</div>
<div class="a" style="right:8px;top:378.9px;font-size:14px;color:#e6e6e6">6.48%</div>
<div class="a t" style="left:908px;top:399.7px;color:#e0e0e0">均价</div>
<div class="a" style="right:176px;top:398.7px;font-size:14px;color:#ff2b33">1.365</div>
<div class="a t" style="left:1072px;top:399.7px;color:#e0e0e0">开盘</div>
<div class="a" style="right:8px;top:398.7px;font-size:14px;color:#22b14c">1.320</div>
<div class="a t" style="left:908px;top:419.5px;color:#e0e0e0">最高</div>
<div class="a" style="right:176px;top:418.5px;font-size:14px;color:#ff2b33">1.398</div>
<div class="a t" style="left:1072px;top:419.5px;color:#e0e0e0">最低</div>
<div class="a" style="right:8px;top:418.5px;font-size:14px;color:#22b14c">1.312</div>
<div class="a t" style="left:908px;top:439.3px;color:#e0e0e0">涨停</div>
<div class="a" style="right:176px;top:438.3px;font-size:14px;color:#ff2b33">1.594</div>
<div class="a t" style="left:1072px;top:439.3px;color:#e0e0e0">跌停</div>
<div class="a" style="right:8px;top:438.3px;font-size:14px;color:#22b14c">1.062</div>
<div class="a t" style="left:908px;top:460.5px;color:#e0e0e0">IOPV</div>
<div class="a" style="right:177px;top:459.5px;font-size:14px;color:#e6e6e6">1.3902</div>
<div class="a t" style="left:1076px;top:460.5px;color:#e0e0e0">溢折率</div>
<div class="a" style="right:8px;top:459.5px;font-size:14px;color:#22b14c">-0.01%</div>
<div class="a t" style="left:908px;top:480.2px;color:#e0e0e0">净值</div>
<div class="a" style="right:177px;top:479.2px;font-size:14px;color:#ff2b33">1.3289</div>
<div class="a t" style="left:1076px;top:480.2px;color:#e0e0e0">升贴水率</div>
<div class="a" style="right:8px;top:479.2px;font-size:14px;color:#ff2b33">4.60%</div>
<div class="a t" style="left:908px;top:500.3px;color:#e0e0e0">流通盘</div>
<div class="a" style="right:177px;top:499.3px;font-size:14px;color:#e6e6e6">0.17亿</div>
<div class="a t" style="left:1076px;top:500.3px;color:#e0e0e0">流通值</div>
<div class="a" style="right:8px;top:499.3px;font-size:14px;color:#e6e6e6">0.2亿</div>
<div class="a" style="left:908px;top:521.7px;font-size:14px;letter-spacing:-0.2px;color:#d4d4d4">14:45:55</div>
<div class="a" style="right:143px;top:521.7px;font-size:14px;color:#ff2b33">1.390</div>
<div class="a" style="right:6px;top:521.7px;font-size:14px;color:#ff2b33">1000</div>
<div class="a" style="left:908px;top:542.6px;font-size:14px;letter-spacing:-0.2px;color:#d4d4d4">14:46:43</div>
<div class="a" style="right:143px;top:542.6px;font-size:14px;color:#ff2b33">1.390</div>
<div class="a" style="right:6px;top:542.6px;font-size:14px;color:#ff2b33">36</div>
<div class="a" style="left:908px;top:561.7px;font-size:14px;letter-spacing:-0.2px;color:#d4d4d4">14:46:46</div>
<div class="a" style="right:143px;top:561.7px;font-size:14px;color:#ff2b33">1.392</div>
<div class="a" style="right:6px;top:561.7px;font-size:14px;color:#ff2b33">36</div>
<svg width="1241" height="623"><path d="M1100.5 570.2 l4.5 -5 l4.5 5 h-2.6 v4 h-3.8 v-4z" fill="#ff2b33"/></svg>
<div class="a" style="left:908px;top:581.3px;font-size:14px;letter-spacing:-0.2px;color:#d4d4d4">14:46:58</div>
<div class="a" style="right:143px;top:581.3px;font-size:14px;color:#ff2b33">1.390</div>
<div class="a" style="right:6px;top:581.3px;font-size:14px;color:#22b14c">100</div>
<svg width="1241" height="623"><path d="M1100.5 588.8 l4.5 5 l4.5 -5 h-2.6 v-4 h-3.8 v4z" fill="#22b14c"/></svg>
<div style="position:absolute;left:1239px;top:77px;width:1px;height:546px;background:#060708"></div><div style="position:absolute;left:1240px;top:77px;width:1px;height:546px;background:#26282d"></div>
<div style="position:absolute;left:902px;top:615px;width:339px;height:8px;background:#1c1e23"></div>
<div style="position:absolute;left:903px;top:615px;width:42px;height:8px;background:#4a4d55"></div>
</body></html>
